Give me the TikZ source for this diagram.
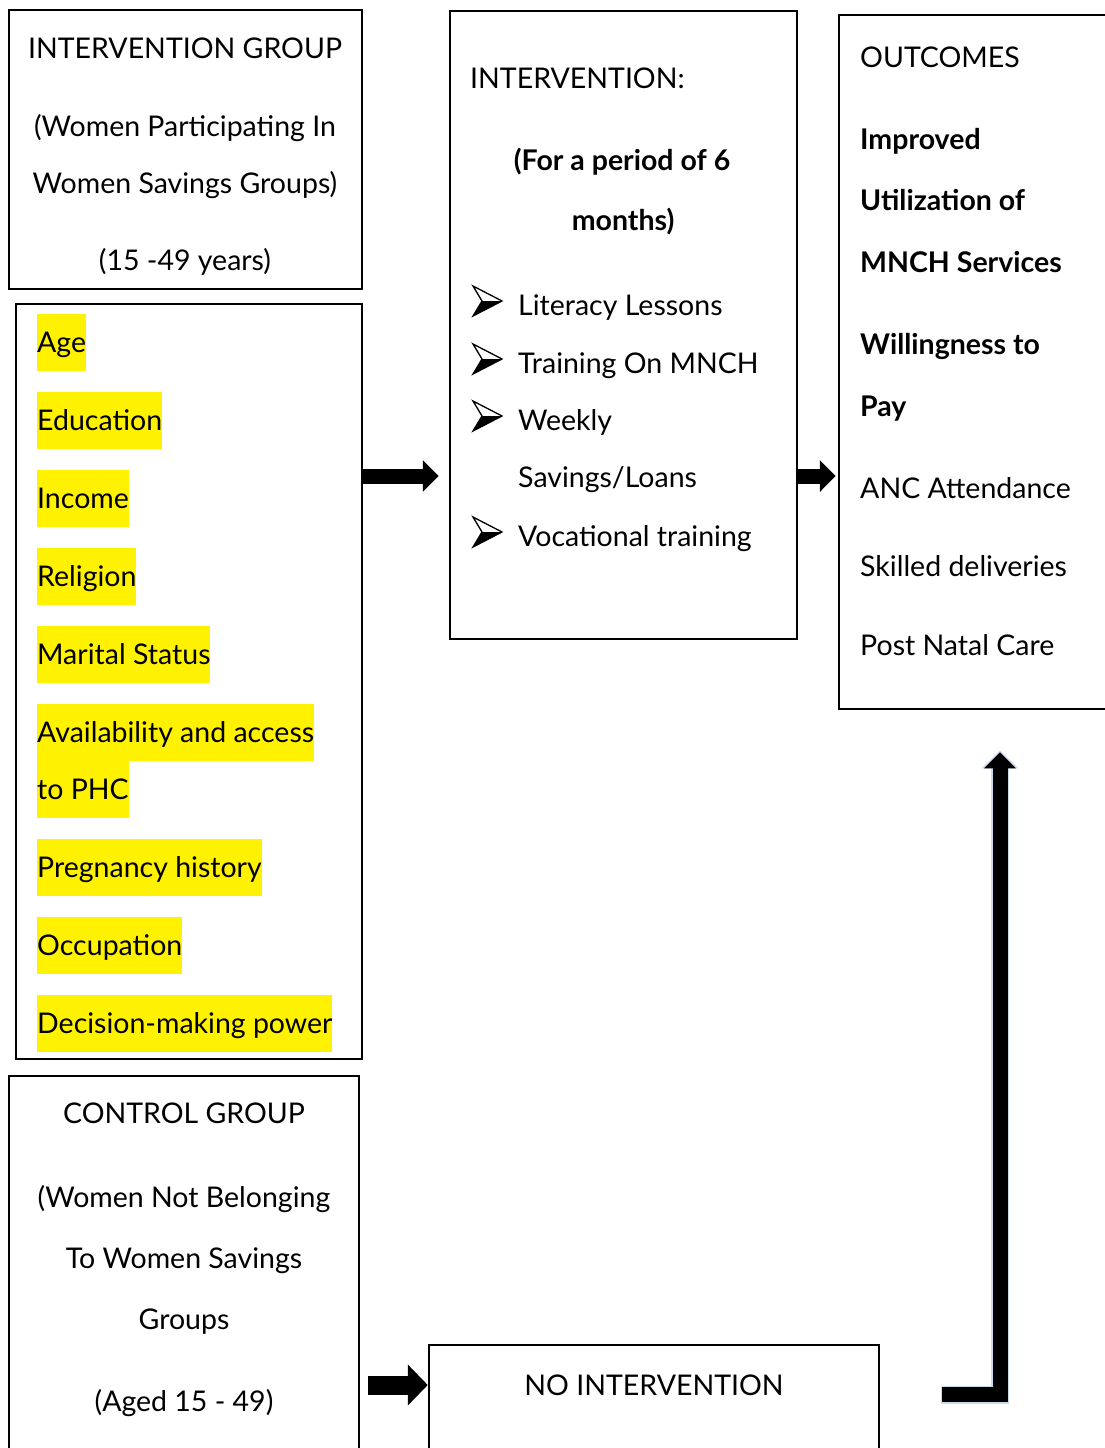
\documentclass[tikz,border=0pt]{standalone}
\usepackage{fontspec}
\setmainfont{Lato}
\usetikzlibrary{positioning, arrows.meta, calc}
\definecolor{edgeblue}{RGB}{200,218,238}

\tikzset{
  box/.style={draw, line width=2.5pt, inner sep=0pt},
  txt/.style={font=\fontsize{28.5}{33}\selectfont, inner sep=0pt, text height=24pt, text depth=4pt},
  bold/.style={txt, font=\fontsize{28.5}{33}\selectfont\bfseries},
  hl/.style={txt, fill=yellow, minimum height=57pt, anchor=west},
  blockarrow/.style={line width=15pt, -{Triangle[length=16pt, width=31pt]}},
  bulletmark/.pic={
    \fill (9,0) -- (29,0) -- (0,15) -- cycle;
    \draw[line width=1.3pt, line join=miter] (0,-15) -- (29,0) -- (0,15) -- (9,0) -- cycle;
  },
}

\begin{document}
\begin{tikzpicture}[x=1pt, y=-1pt]
    \useasboundingbox (0,0) rectangle (1105,1448);
    \clip (0,0) rectangle (1105,1448);
    \fill[white] (0,0) rectangle (1105,1448);

    % Boxes
    \node (igbox) [box, minimum width=353pt, minimum height=279pt] at (185.5,149.5) {};
    \node (covbox) [box, minimum width=346pt, minimum height=755pt] at (189,681.5) {};
    \node (ctrlbox) [box, minimum width=350pt, minimum height=394pt] at (184,1273) {};
    \node (ivbox) [box, minimum width=347pt, minimum height=628pt] at (623.5,325) {};
    \node (outbox) [box, minimum width=281pt, minimum height=694pt] at (979.5,362) {};
    \node (nibox) [box, minimum width=450pt, minimum height=125pt] at (654,1407.5) {};

    % Intervention group
    \node (igtitle) [txt] at (185,48) {INTERVENTION GROUP};
    \node (igline1) [txt] at (185,126) {(Women Participating In};
    \node (igline2) [txt] at (185,183) {Women Savings Groups)};
    \node (igage) [txt] at (185,260) {(15 -49 years)};

    % Covariates
    \node (age) [hl] at (37,342.5) {Age};
    \node (edu) [hl] at (37,420.5) {Education};
    \node (inc) [hl] at (37,498.5) {Income};
    \node (rel) [hl] at (37,576.5) {Religion};
    \node (mar) [hl] at (37,654.5) {Marital Status};
    \node (avail) [hl] at (37,732.5) {Availability and access};
    \node (phc) [hl] at (37,789.5) {to PHC};
    \node (preg) [hl] at (37,867.5) {Pregnancy history};
    \node (occ) [hl] at (37,945.5) {Occupation};
    \node (dec) [hl] at (37,1023.5) {Decision-making power};

    % Control group
    \node (ctrltitle) [txt] at (184,1113) {CONTROL GROUP};
    \node (ctrlline1) [txt] at (184,1197) {(Women Not Belonging};
    \node (ctrlline2) [txt] at (184,1258) {To Women Savings};
    \node (ctrlline3) [txt] at (184,1319) {Groups};
    \node (ctrlage) [txt] at (184,1401) {(Aged 15 - 49)};

    % Intervention
    \node (ivtitle) [txt, anchor=west] at (470,78) {INTERVENTION:};
    \node (ivperiod) [bold] at (622,160) {(For a period of 6};
    \node (ivmonths) [bold] at (623,220) {months)};
    \foreach \y/\name/\item in {305/lit/Literacy Lessons, 363/train/Training On MNCH, 420/week/Weekly, 536/voc/Vocational training} {
        \pic at (473,\y-4) {bulletmark};
        \node (\name) [txt, anchor=west] at (518,\y) {\item};
    }
    \node (loans) [txt, anchor=west] at (518,477) {Savings/Loans};

    % Outcomes
    \node (outtitle) [txt, anchor=west] at (860,57) {OUTCOMES};
    \node (impr) [bold, anchor=west] at (860,139) {Improved};
    \node (util) [bold, anchor=west] at (860,200) {Utilization of};
    \node (mnch) [bold, anchor=west] at (860,262) {MNCH Services};
    \node (will) [bold, anchor=west] at (860,344) {Willingness to};
    \node (pay) [bold, anchor=west] at (860,406) {Pay};
    \node (anc) [txt, anchor=west] at (860,488) {ANC Attendance};
    \node (skill) [txt, anchor=west] at (860,566) {Skilled deliveries};
    \node (pnc) [txt, anchor=west] at (860,645) {Post Natal Care};

    % No intervention
    \node (nititle) [txt] at (654,1385) {NO INTERVENTION};

    % Arrows
    \coordinate (mid) at (0,476);
    \coordinate (low) at (0,1385);
    \coordinate (lstart) at (942,1394.5);
    \coordinate (lup) at (1000,0);
    \draw [blockarrow, shorten >=10pt] (covbox.east |- mid) -- (ivbox.west |- mid);
    \draw [blockarrow, shorten >=2pt] (ivbox.east |- mid) -- (outbox.west |- mid);
    \draw [line width=19pt, -{Triangle[length=20pt, width=40pt]}, shorten <=8pt] (ctrlbox.east |- low) -- (nibox.west |- low);
    \draw [edgeblue, line width=18pt, line join=miter, -{Triangle[length=18pt, width=35pt]}, shorten >=40pt] ($(lstart)+(-1.5,0)$) -| (outbox.south -| lup);
    \draw [blockarrow, line join=miter, shorten >=42pt] (lstart) -| (outbox.south -| lup);
\end{tikzpicture}
\end{document}
